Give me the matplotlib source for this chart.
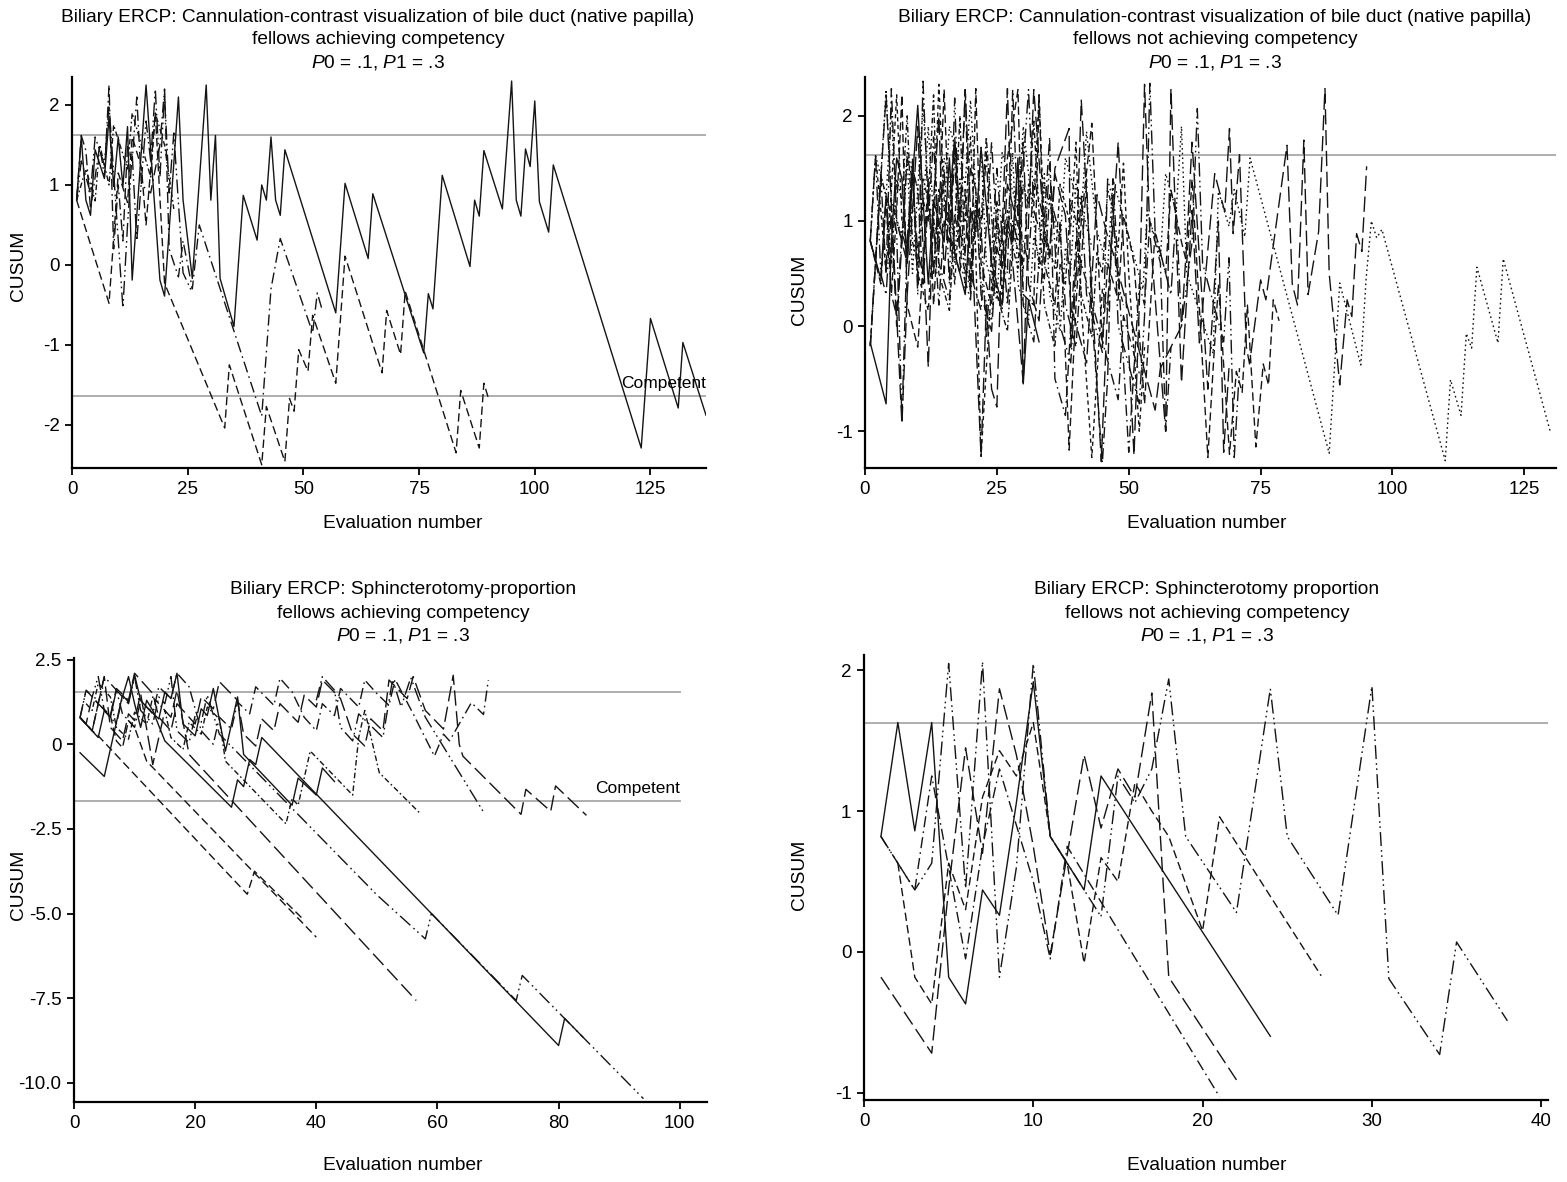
import matplotlib
matplotlib.use("Agg")
import matplotlib.pyplot as plt

plt.rcParams['font.family'] = ['Liberation Sans', 'DejaVu Sans']
plt.rcParams['mathtext.fontset'] = 'custom'
plt.rcParams['mathtext.it'] = 'Liberation Sans:italic'
plt.rcParams['mathtext.rm'] = 'Liberation Sans'
plt.rcParams['axes.unicode_minus'] = False

# ---- panel data: CUSUM vertices (evaluation number, CUSUM) ----
# top left: cannulation, fellows achieving competency
tl_1 = [(1, .81), (2, 1.6), (3, .81), (4, .62), (5, 1.44), (7, 1.08), (8, 1.85), (9, .98), (10, 1.6),
        (11, .98), (12, 1.73), (13, -.19), (16, 2.25), (19, -.19), (20, -.39), (23, 2.1), (24, .81),
        (26, -.17), (29, 2.25), (30, .81), (31, 1.62), (32, -.17), (35, -.77), (37, .87), (40, .31),
        (41, 1.0), (42, .81), (43, 1.6), (44, .81), (45, .62), (46, 1.44), (57, -.6), (59, 1.02),
        (64, .08), (65, .89), (76, -1.1), (77, -.36), (78, -.55), (80, 1.12), (86, -.02), (87, .81),
        (88, .61), (89, 1.43), (93, .7), (95, 2.3), (96, .81), (97, .61), (98, 1.45), (99, 1.23),
        (100, 2.05), (101, .79), (103, .41), (104, 1.25), (123, -2.29), (125, -.67), (131, -1.79),
        (132, -.97), (137, -1.88)]
tl_2 = [(1, .81), (8, -.48), (9, .33), (10, 1.15), (12, .78), (13, 1.6), (15, 1.22), (16, .5),
        (18, 1.9), (20, -.23), (33, -2.04), (34, -1.25), (41, -2.5), (42, -1.77), (46, -2.46),
        (47, -1.67), (48, -1.83), (49, -1.06), (51, -1.33), (52, -.63), (57, -1.48), (59, .11),
        (67, -1.35), (68, -.57), (71, -1.12), (72, -.33), (83, -2.35), (84, -1.57), (88, -2.29),
        (89, -1.48), (90, -1.67)]
tl_3 = [(1, .81), (2, 1.62), (3, 1.43), (4, .7), (6, 1.5), (7, 1.1), (8, 2.25), (9, .2), (10, 1.0),
        (11, .3), (12, 1.5), (13, 1.3), (14, 2.1), (15, 1.0), (17, .9), (19, 1.5), (20, 2.2),
        (21, .2), (23, -.15), (24, .3), (26, -.3), (27.5, .5), (41, -1.89), (43, -.3), (45, .33),
        (52, -.85), (53, -.35), (54, -.55)]
tl_4 = [(1, .81), (2, 1.3), (4, .9), (5, 1.6), (7, 1.25), (8, 2.0), (11, -.54), (12, .5), (13, 1.4),
        (14, .3), (16, 1.8), (17, 1.3), (18, 2.2), (19, 1.1), (20, 2.15), (21, .9), (22, 1.65),
        (24, -.1), (26, -.35)]
tl_5 = [(1, .81), (3, 1.2), (5, .8), (6, 1.5), (8, 1.0), (9, 1.75), (12, 1.2), (13, 1.9), (15, 1.5),
        (17, 1.1), (18, 1.9), (20, 1.5), (22, .7)]

# top right: cannulation, fellows not achieving competency
tr_1 = [(1, .81), (2, 1.62), (3, 1.43), (4, 2.25), (5, 1.2), (7, .85), (8, 1.65), (10, 1.3), (11, 2.1),
        (13, .5), (14, 1.3), (15, 1.1), (16, 1.9), (19, 1.35), (20, 2.15), (22, .4), (24, .05),
        (25, .85), (26, 1.65), (29, 1.1), (30, 1.9), (33, .55), (34, 1.35), (37, .8), (38, 1.6),
        (41, 1.05), (42, 1.85), (44, .9), (46, .55), (47, 1.4), (52.7, .35), (53.5, 1.1), (56, .65),
        (57, 1.45), (59, 1.1), (60, 1.9), (61, .5), (66, -.26), (67, 1.28), (69, .95), (70, 1.3),
        (72, .85), (73, 1.6), (88, -1.21), (89, -.4), (90, .41), (94, -.37), (95, .45), (96, 1.0),
        (97, .84), (98, .92), (110, -1.28), (111, -.51), (113, -.85), (114, -.07), (115, -.21),
        (116, .56), (120, -.16), (121, .64), (130, -1.02)]
tr_2 = [(1, -.19), (2, .6), (3, 1.4), (4, 2.2), (7, -.93), (8, .3), (9, 1.1), (10, 1.9), (12, -.39),
        (13, 1.2), (14, 2.0), (15, .5), (17, 1.8), (18, 1.0), (19, 2.25), (22, -1.24), (23, .2),
        (24, -.6), (25, -.77), (26, .9), (27, 2.26), (28, .6), (30, -.54), (31, 1.0), (32, 2.25),
        (34, .9), (35, .7), (36, 1.5), (38.7, 1.88), (39, -.2), (40, .6), (41, 2.15), (44.8, -1.29),
        (46, .2), (47, 1.0), (48, 1.75), (51, -1.23), (52, .2), (53, 2.3), (54, .9), (57, -1.0),
        (58, 2.26), (60, -.54), (62, 1.1), (63.4, -.16), (66.3, 1.45), (68.2, 1.09), (69.1, 1.88),
        (69.8, .88), (71, 1.63), (72.3, -.2), (72.9, -.36), (75, .44), (76, .25), (80, 1.72),
        (81, .4), (82, .2), (83.2, 1.77), (84, .3), (86, .9), (87.2, 2.26), (88, .5), (90, -.56),
        (91.4, .25), (92.3, .09), (93.2, .88), (94.2, .71), (95.1, 1.52)]
tr_3 = [(1, .81), (3, .4), (4, 1.2), (5, .3), (6, 1.1), (7, 2.2), (8, .2), (10, -.2), (11, .6),
        (12, 1.4), (13, .2), (14, 1.0), (15, 2.25), (16, .9), (18, .5), (19, 1.3), (20, .3),
        (21, 2.26), (22, .6), (24, .2), (25, 1.0), (26, .8), (27, 1.6), (29, 2.25), (30, .3),
        (32, .2), (33, 2.2), (34, .6), (36, .2), (37, 1.0), (38.7, -1.18), (40, .2), (41, 1.0),
        (43, 1.93), (45, -.2), (46, .6), (48, .25), (49, 1.05), (50, .85), (51, .6), (53, -.74),
        (54, .1), (55, .9), (57, .5), (58, 1.3), (60, .8), (61, .6), (62, 1.4), (65, -1.25),
        (66, -.4), (67, .4), (69.1, -1.22), (70.4, -.43), (71.5, -.63), (72.5, .2), (74.1, -1.15),
        (75.5, -.36), (76.5, -.56), (77.4, .25), (78.5, .05)]
tr_4 = [(1, -.16), (4, -.74), (5, .8), (6, 1.6), (7, 1.4), (8, .6), (9, 1.4), (10, 2.1), (11, 1.2),
        (12, .4), (13, 1.2), (15, .8), (16, 1.6), (17, .7), (19, .3), (20, 1.1), (21, .9), (22, 1.7),
        (24, .6), (26, .2), (27, 1.0), (28, .8), (29, 1.6), (30, -.55), (31, .25), (33, -.15)]
tr_5 = [(1, .81), (2, 1.62), (3, .5), (4, .3), (5, 1.1), (6, .9), (7, -.9), (8, .8), (9, 1.6), (10, .3),
        (11, 2.33), (12, 1.1), (13, .9), (14, .7), (15, 1.5), (16, .4), (17, 2.17), (18, .7),
        (20, .35), (21, 1.15), (22, .95), (23, -.1), (24, .7), (25, 1.5), (27, .2), (28, 1.0),
        (29, .8), (31, 2.25), (32, 1.1), (34, .75), (35, 1.55), (37, .0), (39, -.35), (40, .45),
        (41, 1.25), (42, .3), (45, -.25), (46, 1.4), (47, 1.2), (48, 0), (52, -.74), (53, .1),
        (54, 2.31), (55, .9), (58, .3), (59, 1.1), (60, .0), (62, .8), (63, 2.07), (64, .6),
        (68, -.15), (69, .65), (70, -1.25), (71, -.4)]
tr_6 = [(1, .81), (2, .62), (3, 1.43), (4, .5), (5, 2.26), (6, 1.0), (8, .6), (9, 1.45), (10, .4),
        (11, 1.2), (12, 1.0), (13, 1.8), (14, .6), (16, .25), (17, 1.05), (18, .85), (19, 2.25),
        (20, .5), (22, .15), (23, .95), (24, 1.75), (25, .9), (27, .5), (28, 2.25), (29, 1.0),
        (31, .6), (32, 1.4), (34, 1.0), (35, 1.8), (36, -.5), (38, -.85), (39, .0), (40, .8),
        (41, .6), (42, 1.4), (43, .1), (45, -1.3), (46, -.5), (47, 1.4), (50, -1.2), (51, -.4),
        (52, .4), (53, .2), (54, 1.0), (56, .6), (57, -1.0), (58, -.2)]
tr_7 = [(1, .81), (2, 1.62), (3, 1.1), (4, .5), (5, 1.3), (6, 2.2), (7, 1.0), (8, .75), (9, 1.55),
        (10, .5), (12, .15), (13, .95), (14, 2.3), (15, 1.2), (16, 1.0), (17, .4), (18, 1.2),
        (19, 1.0), (20, 1.8), (21, .7), (22, -1.24), (23, -.4), (24, .4), (25, 1.2), (26, .3),
        (27, 1.1), (28, .9), (30, .55), (31, 1.35), (32, 1.15), (33, 2.2), (34, .9), (36, .55),
        (37, 1.35), (39, .95), (40, 1.75), (41, .2), (43, -1.25), (44, -.45), (45, .35), (46, .15),
        (47, .95), (48, .75), (49, 1.55), (50, .5), (52, -1.0), (53, -.2)]
tr_8 = [(1, -.19), (2, .62), (3, 1.43), (4, 1.24), (5, .6), (6, 1.4), (7, 1.2), (8, 2.0), (9, .8),
        (10, .6), (11, 1.4), (12, 1.2), (13, 2.2), (14, .5), (16, .15), (17, .95), (18, 2.0),
        (19, .6), (20, .4), (21, 1.2), (22, 1.0), (23, 1.8), (25, .3), (27, -.05), (28, .75),
        (29, .55), (30, 1.35), (31, 1.15), (32, 1.95), (34, .2), (36, -.2), (37, .6), (38, .4),
        (39, 1.2), (40, 1.0), (41, .3), (43, -.1), (44, .7), (45, .5), (46, 1.3), (47, 1.1),
        (48, .4), (49, .2)]
tr_9 = [(1, .81), (2, .62), (3, 1.43), (4, 1.24), (5, 2.05), (6, 1.0), (7, .8), (8, 1.6), (9, .5),
        (10, 1.3), (11, 1.1), (12, 1.9), (13, 1.0), (14, .8), (15, 1.6), (16, 1.4), (17, .6),
        (18, 1.4), (19, .3), (20, 1.1), (21, .9), (22, 1.7), (23, .6), (25, .25), (26, 1.05),
        (27, .85), (28, 1.65), (29, .4), (31, .05), (32, .85), (33, .65), (34, 1.45), (35, .3),
        (37, -.05), (38, .75), (39, .55), (40, 1.35), (42, .95), (43, .75)]
tr_10 = [(1, .81), (3, .45), (4, 1.25), (5, 1.05), (6, .0), (7, .8), (8, 1.6), (9, 1.4), (10, .7),
         (11, .5), (12, 1.3), (13, .5), (14, 1.3), (16, .95), (17, 1.75), (18, .9), (19, .7),
         (20, 1.5), (21, 1.3), (22, .3), (24, -.05), (25, .75), (26, .55), (27, 1.35), (29, .95),
         (30, 1.75), (31, .4), (33, .05), (34, .85), (35, .65), (36, 1.45), (38, 1.05), (39, .2),
         (42, -.35), (43, .45), (44, 1.25), (46, .85), (47, .7), (55, -.8), (56, -.4), (60, .0),
         (61, .8), (62, 1.75), (65, -.6), (66, .2), (67, 1.0), (68, -1.2), (69, -.4)]
tr_11 = [(1, -.19), (2, .62), (3, .43), (4, 1.24), (5, .3), (6, .1), (7, .9), (8, .7), (9, 1.5),
         (10, 1.3), (11, .4), (12, 1.2), (13, 1.0), (14, .2), (15, 1.0), (16, .8), (17, 1.6),
         (18, .6), (20, .25), (21, 1.05), (22, .85), (23, 1.65), (24, .5), (26, .15), (27, .95),
         (28, .75), (29, 1.55), (30, .2), (32, -.15), (33, .65), (34, .45), (35, 1.25), (37, .85),
         (38, .2), (40, -.2), (41, .6), (48, -.7), (49, .1), (52, -.45)]

# bottom left: sphincterotomy, fellows achieving competency
bl_1 = [(1, .79), (4, .2), (5, 1.0), (6, .8), (7, 1.6), (8, 1.4), (9, 2.0), (10, 1.2), (11, .5),
        (12, 1.3), (13, 1.0), (15, .1), (26, -1.86), (27, -1.05), (28, -1.25), (29, -.45),
        (30, -.6), (31, .2), (80, -8.9), (81, -8.1), (84, -8.65)]
bl_2 = [(1, -.25), (5, -.95), (6, -.15), (7, .65), (8, 1.45), (9, 1.25), (10, 2.05), (11, 1.3),
        (12, 1.1), (14, .75), (15, 1.55), (16, 1.35), (17, 2.1), (18, .6), (20, .25), (21, 1.05),
        (22, .85), (23, 1.65), (25, -.2), (26, .6), (27, 1.4), (28, -.3), (36, -1.8), (37, -1.0),
        (40, -1.5), (41, -.7), (43, -1.1)]
bl_3 = [(1, .79), (2, 1.6), (3, 1.4), (4, 2.0), (5, 1.0), (7, .6), (8, 1.4), (9, 1.2), (10, 2.0),
        (11, 1.0), (13, .6), (14, 1.4), (15, 1.2), (16, 2.0), (17, .4), (19, .05), (20, .85),
        (21, .65), (22, 1.45), (24, .3), (50, -4.45), (58, -5.75), (59, -5.0), (73, -7.57),
        (74, -6.83), (94, -10.47)]
bl_4 = [(1, .79), (2, .6), (3, 1.4), (4, 1.2), (5, 2.0), (6, .5), (8, .1), (9, .9), (10, .7),
        (11, 1.5), (13, -.6), (14, .2), (15, 1.0), (16, .8), (17, 1.6), (19, -.3), (56.5, -7.57)]
bl_5 = [(1, .79), (2, .6), (3, .4), (4, .25), (28.6, -4.43), (29.8, -3.75), (38, -5.2)]
bl_6 = [(1, .79), (3, .4), (4, 1.2), (6, .85), (7, 1.65), (9, 1.3), (10, 2.1), (13, 1.5), (14, .8),
        (16, .4), (17, 1.2), (20, .6), (21, 1.4), (23, 1.05), (24, 1.85), (27, 1.3), (28, .3),
        (30, -.05), (31, .75), (33, .4), (34, 1.2), (37, .65), (38, 1.45), (40, 1.1), (41, 1.9),
        (44, 1.35), (46, .3), (48, -.05), (49, .75), (51, .4), (52, 1.9), (55, 1.35), (56, 2.0),
        (58, 1.0), (61, .45), (62.6, 2.04), (63.6, 0.0), (64.2, -.35), (73.8, -2.07),
        (74.6, -1.33), (78.7, -1.98), (79.5, -1.23), (84.6, -2.1)]
bl_7 = [(1, .79), (2, 1.6), (4, 1.2), (5, 2.0), (7, 1.6), (8, .9), (10, .5), (11, 1.3), (13, .9),
        (14, 1.7), (16, 1.35), (17, 2.1), (19, 1.7), (21, .4), (23, 0.0), (24, .8), (26, .45),
        (27, 1.25), (29, .9), (30, 1.7), (33, 1.15), (34, 1.95), (36, 1.55), (38, .8), (40, .4),
        (41, 1.2), (43, .85), (44, 1.65), (47, 1.1), (48, 1.9), (50, 1.5), (52, 1.15), (53, 1.92),
        (56, .9), (59.5, -.35), (61, .3), (62, .1), (65.6, 1.23), (67.6, .88), (68.4, 1.9)]
bl_8 = [(1, .79), (3, .4), (4, 1.2), (6, .85), (7, .1), (8, -.1), (9, .7), (10, .5), (12, -.5),
        (40, -5.7)]
bl_9 = [(2, 1.2), (3, 1.0), (4, 1.8), (6, 1.4), (7, .5), (9, .15), (10, .95), (12, .6), (13, 1.4),
        (15, 1.0), (16, .2), (18, -.15), (19, .65), (21, .3), (22, 1.1), (24, .75), (25, -.5),
        (35, -2.35), (36, -1.6), (37, -1.8), (38, -1.0), (39, -.2), (46, -1.5), (47, .2), (48, 1.0),
        (50.4, -.84), (57.3, -2.07)]
bl_10 = [(40, 1.3), (41, 2.0), (43, 1.6), (44, .5), (46, .1), (47, .9), (49, .55), (51, .2),
         (52.6, 1.92), (54, 1.1), (55.6, 1.97), (58, .8), (67.6, -2.0)]

# bottom right: sphincterotomy, fellows not achieving competency
br_1 = [(1, .82), (2, 1.63), (3, .86), (4, 1.63), (5, -.18), (6, -.37), (7, .44), (8, .26),
        (9, 1.06), (10, 1.92), (11, .82), (13, .44), (14, 1.25), (24, -.6)]
br_2 = [(1, -.18), (4, -.72), (5, .45), (6, 1.45), (7, .7), (8, 1.87), (9, 1.4), (10, .75),
        (11, -.02), (13, 1.4), (14, .88), (15, 1.3), (16, 1.1), (17, 1.84), (18, -.18), (22, -.91)]
br_3 = [(1, .82), (3, .44), (4, .63), (5, 2.05), (6, .45), (7, 2.06), (8, -.18), (9, .6),
        (10, 2.05), (11, .82), (13, .44), (14, .25), (15, 1.25), (16, 1.06), (17, 1.3), (18, 1.94),
        (19, .82), (22, .28), (24, 1.87), (25, .82), (28, .26), (30, 1.89), (31, -.19), (34, -.73),
        (35, .07), (38, -.49)]
br_4 = [(1, .82), (2, .63), (3, .44), (4, 1.25), (5, .6), (6, -.05), (7, .75), (8, 1.3), (9, .9),
        (10, .5), (11, -.05), (12, .75), (21, -1.03)]
br_5 = [(2, .63), (3, -.18), (4, -.37), (5, .63), (6, .3), (7, 1.1), (8, 1.43), (9, 1.25),
        (10, 1.63), (11, .82), (12, .63), (13, -.08), (14, .67), (15, .5), (16, 1.2), (17, 1.0),
        (18, .82), (20, .15), (21, .96), (27, -.17)]

# ---- styles ----
SOLID = '-'
DASH = (0, (6, 3))
LDASH = (0, (11, 4))
SDASH = (0, (3, 2.5))
DASHDOT = (0, (8, 3, 1.2, 3))
LDASHDOT2 = (0, (10, 3, 1.2, 2.5, 1.2, 3))
DOT = (0, (1.2, 2.2))
SDASHDOT = (0, (4, 2, 1.2, 2))

panels = [
    dict(lines=[tl_1, tl_2, tl_3, tl_4, tl_5],
         styles=[SOLID, DASH, DASHDOT, LDASHDOT2, SDASHDOT],
         rect=[72/1567, 1-468/1182, 634/1567, 391/1182],
         xlim=(0, 137), ylim=(-2.54, 2.35), xticks=[0, 25, 50, 75, 100, 125],
         yticks=[-2, -1, 0, 1, 2], ylabels=None, h=(1.62, -1.64), hx=(0, 137),
         competent=True,
         title=["Biliary ERCP: Cannulation-contrast visualization of bile duct (native papilla)",
                "fellows achieving competency"],
         tx=378, ty=(17, 40, 63), xl=(403, 523), yl=(18, 266)),
    dict(lines=[tr_1, tr_2, tr_3, tr_4, tr_5, tr_6, tr_7, tr_8, tr_9, tr_10, tr_11],
         styles=[DOT, LDASH, DASH, SOLID, LDASHDOT2, DASHDOT, SDASH, SDASHDOT, DOT, LDASH, DASHDOT],
         rect=[865/1567, 1-468/1182, 691/1567, 391/1182],
         xlim=(0, 131), ylim=(-1.35, 2.37), xticks=[0, 25, 50, 75, 100, 125],
         yticks=[-1, 0, 1, 2], ylabels=None, h=(1.63,), hx=(0, 131), competent=False,
         title=["Biliary ERCP: Cannulation-contrast visualization of bile duct (native papilla)",
                "fellows not achieving competency"],
         tx=1215, ty=(17, 40, 63), xl=(1207, 523), yl=(800, 290)),
    dict(lines=[bl_1, bl_2, bl_3, bl_4, bl_5, bl_6, bl_7, bl_8, bl_9, bl_10],
         styles=[SOLID, SOLID, LDASHDOT2, LDASH, DASH, LDASH, DASHDOT, DASH, SDASHDOT, LDASHDOT2],
         rect=[74/1567, 1-1102/1182, 633/1567, 444/1182],
         xlim=(0, 104.5), ylim=(-10.57, 2.55), xticks=[0, 20, 40, 60, 80, 100],
         yticks=[2.5, 0, -2.5, -5, -7.5, -10],
         ylabels=["2.5", "0", "-2.5", "-5.0", "-7.5", "-10.0"], h=(1.55, -1.69), hx=(0, 100),
         competent=True,
         title=["Biliary ERCP: Sphincterotomy-proportion", "fellows achieving competency"],
         tx=403, ty=(590, 613, 636), xl=(403, 1166), yl=(18, 885)),
    dict(lines=[br_1, br_2, br_3, br_4, br_5],
         styles=[SOLID, LDASH, LDASHDOT2, DASHDOT, DASH],
         rect=[864/1567, 1-1100/1182, 684/1567, 445/1182],
         xlim=(0, 40.4), ylim=(-1.053, 2.11), xticks=[0, 10, 20, 30, 40],
         yticks=[-1, 0, 1, 2], ylabels=None, h=(1.63,), hx=(0, 40.4), competent=False,
         title=["Biliary ERCP: Sphincterotomy proportion", "fellows not achieving competency"],
         tx=1207, ty=(590, 613, 636), xl=(1207, 1166), yl=(800, 875)),
]

W, H = 1567, 1182
fig = plt.figure(figsize=(W/100, H/100), dpi=100)
ink = '#141414'
fs = 13.8

for p in panels:
    ax = fig.add_axes(p['rect'])
    for hy in p['h']:
        ax.plot(p['hx'], [hy, hy], color='#a8a8a8', lw=1.3, zorder=1)
    for pts, ls in zip(p['lines'], p['styles']):
        xs = [a for a, b in pts]
        ys = [b for a, b in pts]
        ax.plot(xs, ys, color=ink, lw=1.0, linestyle=ls, zorder=2)
    if p['competent']:
        ax.text(p['hx'][1], p['h'][1] + 0.012 * (p['ylim'][1] - p['ylim'][0]), "Competent",
                ha='right', va='bottom', fontsize=12.5, color='black')
    ax.set_xlim(*p['xlim'])
    ax.set_ylim(*p['ylim'])
    ax.set_xticks(p['xticks'])
    ax.set_yticks(p['yticks'])
    if p['ylabels']:
        ax.set_yticklabels(p['ylabels'])
    for s in ['top', 'right']:
        ax.spines[s].set_visible(False)
    for s in ['left', 'bottom']:
        ax.spines[s].set_linewidth(1.6)
        ax.spines[s].set_color('black')
    ax.tick_params(direction='out', length=5, width=1.3, labelsize=13.5, pad=4)
    cx = p['tx'] / W
    fig.text(cx, 1 - p['ty'][0] / H, p['title'][0], ha='center', va='center', fontsize=fs)
    fig.text(cx, 1 - p['ty'][1] / H, p['title'][1], ha='center', va='center', fontsize=fs)
    fig.text(cx, 1 - p['ty'][2] / H, r"$\mathit{P}$0 = .1, $\mathit{P}$1 = .3",
             ha='center', va='center', fontsize=fs)
    fig.text(p['xl'][0] / W, 1 - p['xl'][1] / H, "Evaluation number", ha='center', va='center',
             fontsize=fs)
    fig.text(p['yl'][0] / W, 1 - p['yl'][1] / H, "CUSUM", ha='center', va='center',
             rotation=90, fontsize=fs)

fig.savefig("out.png", dpi=100)
